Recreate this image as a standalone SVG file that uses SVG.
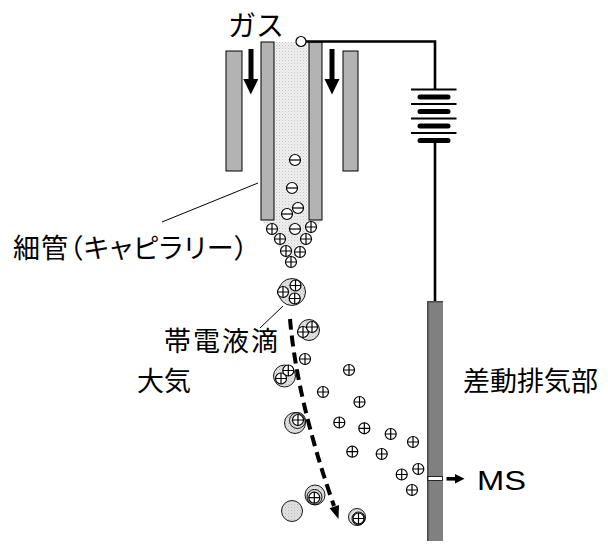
<svg xmlns="http://www.w3.org/2000/svg" width="608" height="544" viewBox="0 0 608 544">
  <style>
    .jp { font-family: "Noto Sans CJK JP", "Noto Sans", sans-serif; font-size: 27px; fill: #000; font-feature-settings: "palt"; }
    .gas { font-family: "Noto Sans CJK JP", "Noto Sans", sans-serif; font-size: 28px; fill: #000; }
    .lat { font-family: "Liberation Sans", Arial, sans-serif; font-size: 28px; fill: #000; }
    .tube { fill: #b3b3b3; stroke: #000; stroke-width: 1; }
    .wire { fill: none; stroke: #000; stroke-width: 2.6; }
    .thin { fill: none; stroke: #000; stroke-width: 2; }
    .cell { fill: none; stroke: #000; stroke-width: 5; stroke-linecap: round; }
    .lead { fill: none; stroke: #000; stroke-width: 1; }
    .ion circle { fill: #fff; stroke: #000; stroke-width: 1.2; }
    .ion path { fill: none; stroke: #000; stroke-width: 1.2; }
    .drop { fill: url(#dropFill); stroke: #000; stroke-width: 0.9; }
    .ring { fill: none; stroke: #000; stroke-width: 0.9; }
  </style>
  <defs>
    <pattern id="liquid" width="3" height="3" patternUnits="userSpaceOnUse">
      <rect width="3" height="3" fill="#f0f0f0"/>
      <rect x="0" y="0" width="1" height="1" fill="#c4c4c4"/>
      <rect x="1.5" y="1.5" width="1" height="1" fill="#d4d4d4"/>
    </pattern>
    <pattern id="dropFill" width="3" height="3" patternUnits="userSpaceOnUse">
      <rect width="3" height="3" fill="#e2e2e2"/>
      <rect x="0" y="0" width="1" height="1" fill="#b8b8b8"/>
      <rect x="1.5" y="1.5" width="1" height="1" fill="#c8c8c8"/>
    </pattern>
    <g id="pos" class="ion"><circle r="5.5"/><path d="M-5.5,0H5.5M0,-5.5V5.5"/></g>
    <g id="neg" class="ion"><circle r="5.5"/><path d="M-5.5,0H5.5"/></g>
  </defs>

  <!-- electrospray emitter: sheath tubes, capillary and liquid -->
  <g id="sheath-left"><rect class="tube" x="226" y="51" width="16" height="120"/></g>
  <g id="sheath-right"><rect class="tube" x="343" y="51" width="15" height="120"/></g>
  <g id="capillary">
    <rect x="274" y="42" width="35" height="178" fill="url(#liquid)"/>
    <polygon points="262,220 322,220 291,266" fill="url(#liquid)"/>
    <rect class="tube" x="261" y="42" width="13" height="178"/>
    <rect class="tube" x="309" y="42" width="13" height="178"/>
  </g>

  <!-- gas flow arrows -->
  <g id="gas-flow">
    <rect x="248.5" y="49" width="5" height="31" fill="#000"/>
    <polygon points="243.3,79 258.3,79 250.8,94.5" fill="#000"/>
    <rect x="329.5" y="49" width="5" height="31" fill="#000"/>
    <polygon points="324.5,79 339.5,79 332,94.5" fill="#000"/>
  </g>

  <!-- high-voltage supply and differential pumping interface -->
  <g id="supply">
    <path class="wire" d="M306,41.5H435V89M435,140V302"/>
    <circle cx="301" cy="41.5" r="5" fill="#fff" stroke="#000" stroke-width="1.2"/>
    <path class="thin" d="M411,89.5H456.5M411,104H456.5M411,118.5H456.5M411,133H456.5"/>
    <path class="cell" d="M420,97H448M420,111.5H448M420,126H448M420,140.5H448"/>
  </g>
  <g id="interface">
    <rect x="427" y="301" width="16" height="240" fill="#808080"/>
    <rect x="427" y="301" width="1.6" height="240" fill="#4a4a4a"/>
    <rect x="427" y="301" width="16" height="1.5" fill="#4a4a4a"/>
    <rect x="428" y="476.5" width="14.5" height="4" fill="#fff" stroke="#000" stroke-width="0.8"/>
  </g>
  <g id="to-ms">
    <rect x="446.5" y="477" width="9.5" height="3.6" fill="#000"/>
    <polygon points="455,474 464.5,478.8 455,483.6" fill="#000"/>
  </g>

  <!-- ions in and below the capillary -->
  <g id="ions-capillary">
    <use href="#neg" x="295" y="160"/>
    <use href="#neg" x="292" y="188"/>
    <use href="#neg" x="298" y="208"/>
    <use href="#neg" x="287" y="214"/>
    <use href="#neg" x="295" y="229"/>
    <use href="#pos" x="272" y="229"/>
    <use href="#pos" x="311" y="227"/>
    <use href="#pos" x="280" y="239"/>
    <use href="#pos" x="306" y="239"/>
    <use href="#pos" x="286" y="251"/>
    <use href="#pos" x="300" y="252"/>
    <use href="#pos" x="291" y="262"/>
  </g>

  <!-- charged droplets -->
  <g id="droplet-1">
    <circle class="drop" cx="292" cy="292" r="13.5"/>
    <use href="#pos" x="283" y="292"/>
    <use href="#pos" x="295.5" y="285.5"/>
    <use href="#pos" x="294.7" y="298.5"/>
  </g>
  <g id="droplet-2">
    <circle class="drop" cx="309" cy="330" r="10.5"/>
    <use href="#pos" x="303" y="332"/>
    <use href="#pos" x="312" y="327"/>
  </g>
  <g id="droplet-3">
    <circle class="drop" cx="284.5" cy="376" r="11"/>
    <use href="#pos" x="281" y="378.5"/>
    <use href="#pos" x="288.3" y="370.5"/>
  </g>
  <g id="droplet-4">
    <circle class="drop" cx="295" cy="423" r="10.5"/>
    <circle class="ring" cx="297.5" cy="420.5" r="8"/>
    <use href="#pos" x="298" y="420"/>
  </g>
  <g id="droplet-5">
    <circle class="drop" cx="315" cy="495" r="10"/>
    <circle class="ring" cx="314.5" cy="497" r="7.5"/>
    <use href="#pos" x="314.3" y="497.7"/>
  </g>
  <g id="droplet-6">
    <circle class="drop" cx="292" cy="511" r="10.5"/>
  </g>
  <g id="droplet-7">
    <circle class="drop" cx="357" cy="517" r="8.5"/>
    <circle class="ring" cx="358.5" cy="518.5" r="6.5"/>
    <use href="#pos" x="358.5" y="518.5"/>
  </g>

  <!-- free gas-phase ions -->
  <g id="ions-gas">
    <use href="#pos" x="305" y="359"/>
    <use href="#pos" x="349" y="370"/>
    <use href="#pos" x="323" y="392"/>
    <use href="#pos" x="359.5" y="402"/>
    <use href="#pos" x="339.3" y="422.5"/>
    <use href="#pos" x="364.3" y="428.3"/>
    <use href="#pos" x="390.7" y="434"/>
    <use href="#pos" x="413" y="442"/>
    <use href="#pos" x="352.3" y="451.7"/>
    <use href="#pos" x="381.7" y="454"/>
    <use href="#pos" x="401.7" y="474.5"/>
    <use href="#pos" x="418.3" y="469"/>
    <use href="#pos" x="412" y="490"/>
  </g>

  <!-- droplet trajectory and leader lines -->
  <g id="connectors">
    <path d="M290,319 Q297,400 334,506" fill="none" stroke="#000" stroke-width="4" stroke-dasharray="11 6"/>
    <polygon points="338.5,519 339,505.1 329.6,508.3" fill="#000"/>
    <line class="lead" x1="258" y1="183" x2="162" y2="222"/>
    <line class="lead" x1="283" y1="306" x2="260" y2="328"/>
  </g>

  <!-- labels -->
  <g id="labels">
    <text class="gas" x="228" y="36">ガス</text>
    <text class="jp" x="13" y="258" textLength="235" lengthAdjust="spacing">細管（キャピラリー）</text>
    <text class="jp" x="164" y="350.5" textLength="114" lengthAdjust="spacing">帯電液滴</text>
    <text class="jp" x="137" y="391">大気</text>
    <text class="jp" x="463" y="391" textLength="135" lengthAdjust="spacing">差動排気部</text>
    <text class="lat" x="477" y="490" textLength="49" lengthAdjust="spacingAndGlyphs">MS</text>
  </g>
</svg>
